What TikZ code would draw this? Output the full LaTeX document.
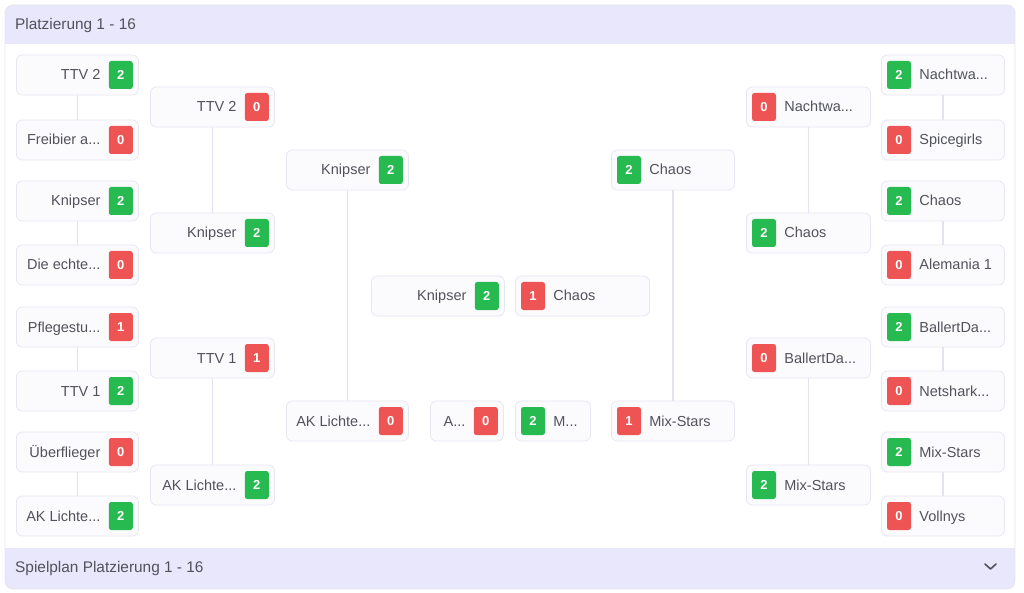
\documentclass[tikz,border=0pt]{standalone}
\usepackage{fontspec}
\setmainfont{Liberation Sans}
\definecolor{hdr}{RGB}{233,231,252}
\definecolor{boxfill}{RGB}{251,251,254}
\definecolor{boxline}{RGB}{231,231,241}
\definecolor{connc}{RGB}{226,226,240}
\definecolor{win}{RGB}{38,186,80}
\definecolor{loss}{RGB}{239,84,84}
\definecolor{txt}{RGB}{82,82,92}
\definecolor{cardline}{RGB}{230,230,240}
\tikzset{
  mbox/.style={draw=boxline, fill=boxfill, rounded corners=6pt, minimum height=40pt, inner sep=0pt, line width=0.8pt},
  badge/.style={rounded corners=2.5pt, minimum width=24pt, minimum height=28pt, inner sep=0pt, text=white, font=\fontsize{13}{13}\selectfont\bfseries},
  lbl/.style={text=txt, font=\fontsize{14.5}{14.5}\selectfont, inner sep=0pt},
  conn/.style={draw=connc, line width=1.6pt},
  ttl/.style={text=txt, font=\fontsize{15.4}{15.4}\selectfont, inner sep=0pt, anchor=base west},
}
\newcommand{\mL}[7]{%
  \node[mbox, anchor=west, minimum width=#3] (#1) at (#2,#4) {};
  \node[badge, fill=#7] (#1b) at ([xshift=-18pt]#1.east) {#6};
  \node[lbl, anchor=base east] (#1t) at ([xshift=-8pt,yshift=-5pt]#1b.west) {#5};}
\newcommand{\mR}[7]{%
  \node[mbox, anchor=west, minimum width=#3] (#1) at (#2,#4) {};
  \node[badge, fill=#7] (#1b) at ([xshift=18pt]#1.west) {#6};
  \node[lbl, anchor=base west] (#1t) at ([xshift=8pt,yshift=-5pt]#1b.east) {#5};}
\begin{document}
\begin{tikzpicture}[x=1pt,y=-1pt]
\useasboundingbox (0,0) rectangle (1024,593);
% card
\fill[white, rounded corners=8pt] (5,5) rectangle (1015,589);
\fill[hdr, rounded corners=8pt] (5,5) rectangle (1015,44);
\fill[hdr] (5,30) rectangle (1015,44);
\fill[hdr, rounded corners=8pt] (5,548) rectangle (1015,589);
\fill[hdr] (5,548) rectangle (1015,560);
\draw[cardline, line width=0.8pt, rounded corners=8pt] (5,5) rectangle (1015,589);
\node[ttl] (title) at (15,29.5) {Platzierung 1 - 16};
\node[ttl] (foot) at (15,572.5) {Spielplan Platzierung 1 - 16};
\draw[txt, line width=1.6pt, line cap=round, line join=round] (985,564) -- (990.5,569) -- (996,564);
% left column 1
\mL{a1}{16}{122}{75}{TTV 2}{2}{win}
\mL{a2}{16}{122}{140}{Freibier a...}{0}{loss}
\mL{a3}{16}{122}{201}{Knipser}{2}{win}
\mL{a4}{16}{122}{265}{Die echte...}{0}{loss}
\mL{a5}{16}{122}{327}{Pflegestu...}{1}{loss}
\mL{a6}{16}{122}{391}{TTV 1}{2}{win}
\mL{a7}{16}{122}{452}{Überflieger}{0}{loss}
\mL{a8}{16}{122}{516}{AK Lichte...}{2}{win}
% left column 2
\mL{b1}{150}{124}{107}{TTV 2}{0}{loss}
\mL{b2}{150}{124}{233}{Knipser}{2}{win}
\mL{b3}{150}{124}{358}{TTV 1}{1}{loss}
\mL{b4}{150}{124}{485}{AK Lichte...}{2}{win}
% left column 3
\mL{c1}{286}{122}{170}{Knipser}{2}{win}
\mL{c2}{286}{122}{421}{AK Lichte...}{0}{loss}
% centre
\mL{f1}{371}{133}{296}{Knipser}{2}{win}
\mR{f2}{515}{134}{296}{Chaos}{1}{loss}
\mL{g1}{430}{73}{421}{A...}{0}{loss}
\mR{g2}{515}{75}{421}{M...}{2}{win}
% right column 3
\mR{d1}{611}{123}{170}{Chaos}{2}{win}
\mR{d2}{611}{123}{421}{Mix-Stars}{1}{loss}
% right column 2
\mR{e1}{746}{124}{107}{Nachtwa...}{0}{loss}
\mR{e2}{746}{124}{233}{Chaos}{2}{win}
\mR{e3}{746}{124}{358}{BallertDa...}{0}{loss}
\mR{e4}{746}{124}{485}{Mix-Stars}{2}{win}
% right column 1
\mR{h1}{881}{123}{75}{Nachtwa...}{2}{win}
\mR{h2}{881}{123}{140}{Spicegirls}{0}{loss}
\mR{h3}{881}{123}{201}{Chaos}{2}{win}
\mR{h4}{881}{123}{265}{Alemania 1}{0}{loss}
\mR{h5}{881}{123}{327}{BallertDa...}{2}{win}
\mR{h6}{881}{123}{391}{Netshark...}{0}{loss}
\mR{h7}{881}{123}{452}{Mix-Stars}{2}{win}
\mR{h8}{881}{123}{516}{Vollnys}{0}{loss}
% connectors
\foreach \p/\q in {a1/a2,a3/a4,a5/a6,a7/a8,b1/b2,b3/b4,c1/c2,d1/d2,e1/e2,e3/e4,h1/h2,h3/h4,h5/h6,h7/h8}
  \draw[conn] (\p.south) -- (\q.north);
\end{tikzpicture}
\end{document}
